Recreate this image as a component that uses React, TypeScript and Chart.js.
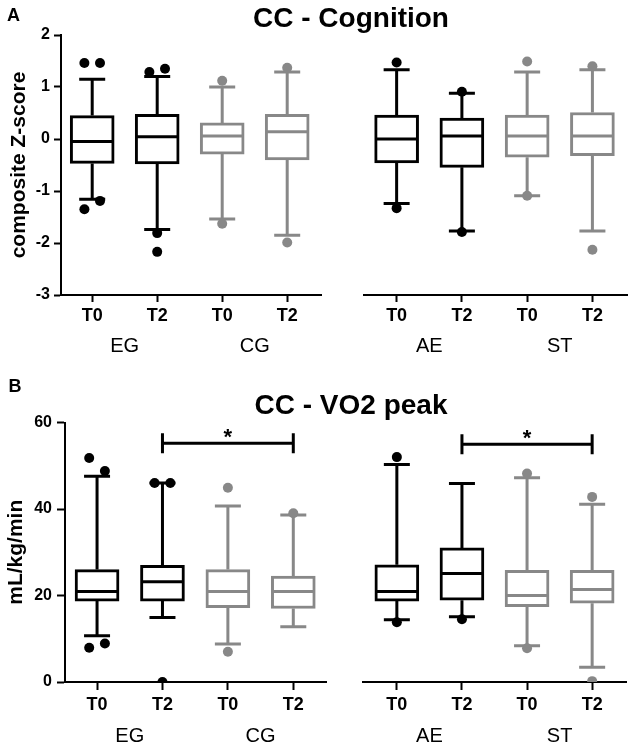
import React, { useEffect, useRef } from 'react';
import { Chart, registerables } from 'chart.js';

Chart.register(...registerables);

// ---------- data ----------
const TICK_LABELS = ['T0', 'T2', 'T0', 'T2'];
const GROUPS_LEFT = ['EG', 'CG'];
const GROUPS_RIGHT = ['AE', 'ST'];
const TITLE_A = 'CC - Cognition';
const TITLE_B = 'CC - VO2 peak';
const Y_TITLE_A = 'composite Z-score';
const Y_TITLE_B = 'mL/kg/min';

// Panel A, left (EG T0, EG T2, CG T0, CG T2)
const A_L_Q1 = [-0.47, -0.48, -0.29, -0.4];
const A_L_MED = [-0.05, 0.045, 0.06, 0.14];
const A_L_Q3 = [0.45, 0.475, 0.31, 0.475];
const A_L_LO = [-1.16, -1.74, -1.54, -1.85];
const A_L_HI = [1.15, 1.2, 1.0, 1.29];
const A_L_OUT = [[1.46, 1.46, -1.35, -1.19], [1.29, 1.35, -1.81, -2.17], [1.12, -1.63], [1.37, -1.99]];

// Panel A, right (AE T0, AE T2, ST T0, ST T2)
const A_R_Q1 = [-0.46, -0.545, -0.35, -0.32];
const A_R_MED = [0.0, 0.06, 0.06, 0.06];
const A_R_Q3 = [0.46, 0.4, 0.46, 0.51];
const A_R_LO = [-1.24, -1.77, -1.09, -1.77];
const A_R_HI = [1.33, 0.88, 1.29, 1.33];
const A_R_OUT = [[1.47, -1.33], [0.91, -1.79], [1.49, -1.09], [1.4, -2.13]];

// Panel B, left (EG T0, EG T2, CG T0, CG T2)
const B_L_Q1 = [18.7, 18.7, 17.2, 17.0];
const B_L_MED = [20.9, 23.2, 20.9, 20.9];
const B_L_Q3 = [26.0, 27.0, 26.0, 24.5];
const B_L_LO = [10.7, 14.9, 8.8, 12.8];
const B_L_HI = [47.6, 46.0, 40.7, 38.6];
const B_L_OUT = [[51.8, 48.8, 7.9, 8.9], [46.0, 46.0, 0], [44.9, 7.0], [39.0]];
const B_L_SIG = { from: 1, to: 3, y: 55.2, label: '*' };

// Panel B, right (AE T0, AE T2, ST T0, ST T2)
const B_R_Q1 = [18.7, 18.9, 17.4, 18.2];
const B_R_MED = [20.9, 25.1, 20.0, 21.4];
const B_R_Q3 = [27.1, 31.0, 25.8, 25.8];
const B_R_LO = [14.4, 15.1, 8.4, 3.4];
const B_R_HI = [50.3, 45.9, 47.2, 41.1];
const B_R_OUT = [[52.0, 13.8], [14.5], [48.2, 7.8], [42.8, 0.2]];
const B_R_SIG = { from: 1, to: 3, y: 55.0, label: '*' };

const Y_A_TICKS = [-3, -2, -1, 0, 1, 2];
const Y_B_TICKS = [0, 20, 40, 60];

// ---------- styles ----------
const BLACK = '#000000';
const GRAY = '#888888';
const BOX_COLORS = [BLACK, BLACK, GRAY, GRAY];
const FF = "'Liberation Sans', Arial, Helvetica, sans-serif";

type Stats = { q1: number[]; med: number[]; q3: number[]; lo: number[]; hi: number[]; out: number[][] };
type Sig = { from: number; to: number; y: number; label: string };

type Layout = {
  width: number; height: number;
  padL: number; padR: number; padT: number;
  xAxisH: number; yAxisW: number | null;
  xMin: number; xMax: number;
  yTicks: number[];
  yTitle?: string; yTitlePad?: number;
  tickLenX: number; tickPadX: number; tickLenY: number; tickPadY: number;
  groupOffset: number;
  groups: string[];
  sig?: Sig;
  header?: { letter: string; letterX: number; letterY: number; title: string; titleX: number; titleY: number };
};

function outlierPoints(s: Stats, yTicks: number[]) {
  const range = yTicks[yTicks.length - 1] - yTicks[0];
  const thr = 0.06 * range;
  const pts: { x: number; y: number }[] = [];
  const cols: string[] = [];
  s.out.forEach((vals, i) => {
    vals.forEach((v, j) => {
      const partner = vals.findIndex((w, k) => k !== j && Math.abs(w - v) < thr);
      let dx = 0;
      if (partner >= 0) dx = partner > j ? -0.12 : 0.12;
      pts.push({ x: i + dx, y: v });
      cols.push(BOX_COLORS[i]);
    });
  });
  return { pts, cols };
}

function makePlugin(s: Stats, L: Layout) {
  return {
    id: 'boxExtras',
    beforeDatasetsDraw(chart: any) {
      const { ctx, scales } = chart;
      const x = scales.x, y = scales.y;
      ctx.save();
      ctx.lineWidth = 3;
      ctx.lineCap = 'butt';
      s.q1.forEach((_, i) => {
        const px = x.getPixelForValue(i);
        const yHi = y.getPixelForValue(s.hi[i]);
        const yLo = y.getPixelForValue(s.lo[i]);
        ctx.strokeStyle = BOX_COLORS[i];
        ctx.beginPath();
        ctx.moveTo(px, y.getPixelForValue(s.q3[i]));
        ctx.lineTo(px, yHi);
        ctx.moveTo(px, y.getPixelForValue(s.q1[i]));
        ctx.lineTo(px, yLo);
        ctx.moveTo(px - 13, yHi);
        ctx.lineTo(px + 13, yHi);
        ctx.moveTo(px - 13, yLo);
        ctx.lineTo(px + 13, yLo);
        ctx.stroke();
      });
      ctx.restore();
    },
    afterDatasetsDraw(chart: any) {
      const { ctx, scales } = chart;
      const x = scales.x, y = scales.y;
      ctx.save();
      ctx.lineWidth = 3;
      s.med.forEach((m, i) => {
        const px = x.getPixelForValue(i);
        const py = y.getPixelForValue(m);
        ctx.strokeStyle = BOX_COLORS[i];
        ctx.beginPath();
        ctx.moveTo(px - 21, py);
        ctx.lineTo(px + 21, py);
        ctx.stroke();
      });
      if (L.sig) {
        const x1 = x.getPixelForValue(L.sig.from);
        const x2 = x.getPixelForValue(L.sig.to);
        const py = y.getPixelForValue(L.sig.y);
        ctx.strokeStyle = BLACK;
        ctx.beginPath();
        ctx.moveTo(x1, py);
        ctx.lineTo(x2, py);
        ctx.moveTo(x1, py - 10);
        ctx.lineTo(x1, py + 10);
        ctx.moveTo(x2, py - 10);
        ctx.lineTo(x2, py + 10);
        ctx.stroke();
        ctx.fillStyle = BLACK;
        ctx.font = `bold 22px ${FF}`;
        ctx.textAlign = 'center';
        ctx.textBaseline = 'alphabetic';
        ctx.fillText(L.sig.label, (x1 + x2) / 2, py + 1);
      }
      ctx.restore();
    },
    afterDraw(chart: any) {
      const { ctx, scales, chartArea } = chart;
      const x = scales.x;
      ctx.save();
      ctx.fillStyle = BLACK;
      ctx.textAlign = 'center';
      ctx.textBaseline = 'alphabetic';
      ctx.font = `20px ${FF}`;
      L.groups.forEach((g, k) => {
        const cx = (x.getPixelForValue(2 * k) + x.getPixelForValue(2 * k + 1)) / 2;
        ctx.fillText(g, cx, chartArea.bottom + L.groupOffset);
      });
      if (L.header) {
        const h = L.header;
        ctx.textAlign = 'left';
        ctx.font = `bold 18px ${FF}`;
        ctx.fillText(h.letter, h.letterX, h.letterY);
        ctx.textAlign = 'center';
        ctx.font = `bold 28px ${FF}`;
        ctx.fillText(h.title, h.titleX, h.titleY);
      }
      ctx.restore();
    },
  };
}

function makeChart(canvas: HTMLCanvasElement, s: Stats, L: Layout) {
  const { pts, cols } = outlierPoints(s, L.yTicks);
  const showY = L.yAxisW !== null;
  return new Chart(canvas, {
    type: 'bar',
    data: {
      datasets: [
        {
          type: 'scatter',
          data: pts,
          backgroundColor: cols,
          borderColor: cols,
          borderWidth: 0,
          pointRadius: 5,
          pointHoverRadius: 5,
          clip: 0,
          order: 0,
        } as any,
        {
          type: 'bar',
          data: s.q1.map((v, i) => ({ x: i, y: [v, s.q3[i]] })),
          backgroundColor: '#ffffff',
          borderColor: BOX_COLORS,
          borderWidth: 3,
          borderSkipped: false,
          barThickness: 44,
          order: 1,
        } as any,
      ],
    },
    options: {
      responsive: false,
      animation: false,
      devicePixelRatio: 1,
      events: [],
      layout: { padding: { left: L.padL, right: L.padR, top: L.padT, bottom: 0 } },
      plugins: { legend: { display: false }, tooltip: { enabled: false }, title: { display: false } },
      scales: {
        x: {
          type: 'linear',
          min: L.xMin,
          max: L.xMax,
          offset: false,
          afterBuildTicks: (sc: any) => {
            sc.ticks = TICK_LABELS.map((_, i) => ({ value: i }));
          },
          afterFit: (sc: any) => {
            sc.height = L.xAxisH;
          },
          ticks: {
            autoSkip: false,
            maxRotation: 0,
            minRotation: 0,
            padding: L.tickPadX,
            color: BLACK,
            font: { family: FF, size: 18, weight: 'bold' },
            callback: (v: any) => TICK_LABELS[v] ?? '',
          },
          grid: { display: true, offset: false, drawOnChartArea: false, drawTicks: true, tickLength: L.tickLenX, tickWidth: 2, color: BLACK },
          border: { display: true, color: BLACK, width: 2 },
        } as any,
        y: {
          type: 'linear',
          display: showY,
          min: L.yTicks[0],
          max: L.yTicks[L.yTicks.length - 1],
          afterBuildTicks: (sc: any) => {
            sc.ticks = L.yTicks.map((v) => ({ value: v }));
          },
          afterFit: (sc: any) => {
            if (showY) sc.width = L.yAxisW;
          },
          ticks: {
            padding: L.tickPadY,
            color: BLACK,
            font: { family: FF, size: 16, weight: 'bold' },
          },
          grid: { display: true, drawOnChartArea: false, drawTicks: true, tickLength: L.tickLenY, tickWidth: 2, color: BLACK },
          border: { display: true, color: BLACK, width: 2 },
          title: {
            display: !!L.yTitle,
            text: L.yTitle || '',
            color: BLACK,
            font: { family: FF, size: 21, weight: 'bold' },
            padding: { top: L.yTitlePad || 0, bottom: 0 },
          },
        } as any,
      },
    },
    plugins: [makePlugin(s, L) as any],
  });
}

export default function App() {
  const r1 = useRef<HTMLCanvasElement>(null);
  const r2 = useRef<HTMLCanvasElement>(null);
  const r3 = useRef<HTMLCanvasElement>(null);
  const r4 = useRef<HTMLCanvasElement>(null);

  useEffect(() => {
    document.body.style.margin = '0';
    const aL: Stats = { q1: A_L_Q1, med: A_L_MED, q3: A_L_Q3, lo: A_L_LO, hi: A_L_HI, out: A_L_OUT };
    const aR: Stats = { q1: A_R_Q1, med: A_R_MED, q3: A_R_Q3, lo: A_R_LO, hi: A_R_HI, out: A_R_OUT };
    const bL: Stats = { q1: B_L_Q1, med: B_L_MED, q3: B_L_Q3, lo: B_L_LO, hi: B_L_HI, out: B_L_OUT };
    const bR: Stats = { q1: B_R_Q1, med: B_R_MED, q3: B_R_Q3, lo: B_R_LO, hi: B_R_HI, out: B_R_OUT };

    const charts = [
      makeChart(r1.current!, aL, {
        width: 632, height: 370, padL: 0, padR: 311, padT: 35, xAxisH: 75, yAxisW: 61,
        xMin: -0.48, xMax: 3.52, yTicks: Y_A_TICKS, yTitle: Y_TITLE_A, yTitlePad: 7,
        tickLenX: 7, tickPadX: 3, tickLenY: 7, tickPadY: 4, groupOffset: 56.7, groups: GROUPS_LEFT,
        header: { letter: 'A', letterX: 7, letterY: 20.7, title: TITLE_A, titleX: 351, titleY: 27 },
      }),
      makeChart(r2.current!, aR, {
        width: 292, height: 370, padL: 24, padR: 5, padT: 35, xAxisH: 75, yAxisW: null,
        xMin: -0.5, xMax: 3.53, yTicks: Y_A_TICKS,
        tickLenX: 7, tickPadX: 3, tickLenY: 7, tickPadY: 4, groupOffset: 56.7, groups: GROUPS_RIGHT,
      }),
      makeChart(r3.current!, bL, {
        width: 632, height: 376, padL: 0, padR: 306, padT: 52.5, xAxisH: 64, yAxisW: 65,
        xMin: -0.49, xMax: 3.5, yTicks: Y_B_TICKS, yTitle: Y_TITLE_B, yTitlePad: 4,
        tickLenX: 8, tickPadX: 4, tickLenY: 8, tickPadY: 5, groupOffset: 60, groups: GROUPS_LEFT, sig: B_L_SIG,
        header: { letter: 'B', letterX: 8.5, letterY: 21.7, title: TITLE_B, titleX: 351, titleY: 43.5 },
      }),
      makeChart(r4.current!, bR, {
        width: 292, height: 376, padL: 23, padR: 6, padT: 52.5, xAxisH: 64, yAxisW: null,
        xMin: -0.52, xMax: 3.52, yTicks: Y_B_TICKS,
        tickLenX: 8, tickPadX: 4, tickLenY: 8, tickPadY: 5, groupOffset: 60, groups: GROUPS_RIGHT, sig: B_R_SIG,
      }),
    ];
    return () => charts.forEach((c) => c.destroy());
  }, []);

  return (
    <div style={{ position: 'absolute', left: 0, top: 0, width: 632, height: 746, background: '#ffffff' }}>
      <canvas ref={r1} width={632} height={370} style={{ position: 'absolute', left: 0, top: 0 }} />
      <canvas ref={r2} width={292} height={370} style={{ position: 'absolute', left: 340, top: 0 }} />
      <canvas ref={r3} width={632} height={376} style={{ position: 'absolute', left: 0, top: 370 }} />
      <canvas ref={r4} width={292} height={376} style={{ position: 'absolute', left: 340, top: 370 }} />
    </div>
  );
}
